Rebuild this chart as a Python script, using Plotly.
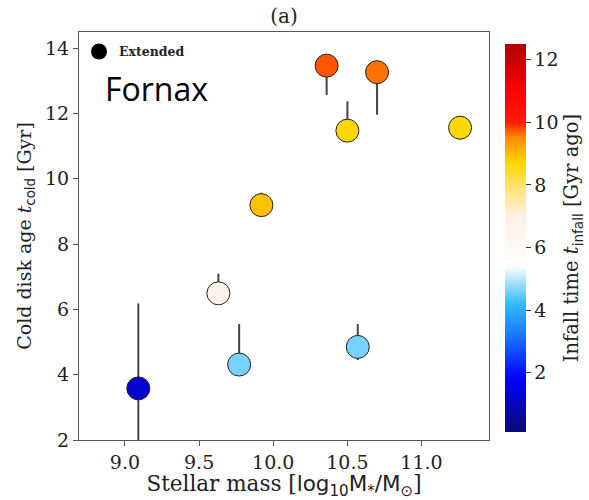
import plotly.graph_objects as go

# Data
stellar_mass = [9.09, 9.63, 9.77, 9.92, 10.36, 10.50, 10.70, 11.26, 10.57]
cold_age = [3.58, 6.49, 4.31, 9.19, 13.46, 11.47, 13.26, 11.56, 4.85]
err_plus = [2.6, 0.6, 1.24, 0.38, 0.0, 0.9, 0.0, 0.0, 0.7]
err_minus = [2.6, 0.0, 0.0, 0.0, 0.9, 0.0, 1.3, 0.0, 0.4]
infall_time = [1.2, 6.8, 4.6, 8.95, 9.74, 8.7, 9.62, 8.7, 4.6]

x_ticks = [9.0, 9.5, 10.0, 10.5, 11.0]
y_ticks = [2, 4, 6, 8, 10, 12, 14]
cb_ticks = [2, 4, 6, 8, 10, 12]

cmin, cmax = 0.1, 12.5
stops = [
    (0.1, "#0a0a72"), (1.8, "#0000ff"), (3.2, "#1a78ff"), (4.2, "#33bbff"),
    (5.4, "#ffffff"), (7.0, "#fff0e6"), (7.8, "#ffe680"), (8.7, "#ffd700"),
    (9.5, "#ff8c00"), (10.0, "#ff1a00"), (11.0, "#ff0000"), (12.5, "#b00000"),
]
colorscale = [[(v - cmin) / (cmax - cmin), c] for v, c in stops]

SERIF = "DejaVu Serif"

fig = go.Figure()
fig.add_trace(go.Scatter(
    x=stellar_mass, y=cold_age, mode="markers", showlegend=False,
    error_y=dict(type="data", symmetric=False, array=err_plus, arrayminus=err_minus,
                 color="#444444", thickness=2, width=0),
    marker=dict(size=23, color=infall_time, colorscale=colorscale, cmin=cmin, cmax=cmax,
                line=dict(color="#222222", width=1),
                colorbar=dict(
                    x=1.039, xanchor="left", xpad=0, y=0.495, yanchor="middle",
                    len=1.0, lenmode="fraction", thickness=21, outlinewidth=0,
                    tickvals=cb_ticks, ticks="outside", ticklen=5, tickcolor="#333",
                    tickfont=dict(family=SERIF, size=19, color="#222"),
                    title=dict(
                        text="Infall time <i>t</i><sub><span style='font-family:DejaVu Sans'>infall</span></sub> [Gyr ago]",
                        side="right", font=dict(family=SERIF, size=19.5, color="#222")),
                )),
))
fig.add_trace(go.Scatter(
    x=[None], y=[None], mode="markers", name="<b>Extended</b>",
    marker=dict(size=16, color="black"),
))

fig.update_layout(
    width=589, height=500,
    margin=dict(l=79, r=100, t=32, b=60, autoexpand=False),
    paper_bgcolor="white", plot_bgcolor="white",
    title=dict(text="(a)", xref="paper", x=0.5, xanchor="center", y=0.968, yanchor="middle",
               font=dict(family=SERIF, size=20, color="#222")),
    legend=dict(x=0.0, y=0.988, xanchor="left", yanchor="top", bgcolor="rgba(0,0,0,0)",
                font=dict(family=SERIF, size=12.5, color="#222"), itemwidth=30,
                tracegroupgap=0),
    annotations=[dict(text="Fornax", xref="paper", yref="paper", x=0.058, y=0.862,
                      xanchor="left", yanchor="middle", showarrow=False,
                      font=dict(family="Open Sans", size=32, color="black"))],
)
fig.update_xaxes(
    range=[8.69, 11.455], tickvals=x_ticks, tickformat=".1f",
    showline=True, mirror=True, linecolor="#555", linewidth=1,
    ticks="outside", ticklen=5, tickcolor="#555", showgrid=False, zeroline=False,
    tickfont=dict(family=SERIF, size=19, color="#222"),
    title=dict(text="Stellar mass [<span style='font-family:DejaVu Sans'>log<sub>10</sub>M<sub>*</sub>/M<sub>⊙</sub></span>]",
               font=dict(family=SERIF, size=21.5, color="#222"), standoff=6),
)
fig.update_yaxes(
    range=[2, 14.49], tickvals=y_ticks,
    showline=True, mirror=True, linecolor="#555", linewidth=1,
    ticks="outside", ticklen=5, tickcolor="#555", showgrid=False, zeroline=False,
    tickfont=dict(family=SERIF, size=19, color="#222"),
    title=dict(text="Cold disk age <i>t</i><sub><span style='font-family:DejaVu Sans'>cold</span></sub> [Gyr]",
               font=dict(family=SERIF, size=19, color="#222"), standoff=8),
)

fig.write_html("out.html")
